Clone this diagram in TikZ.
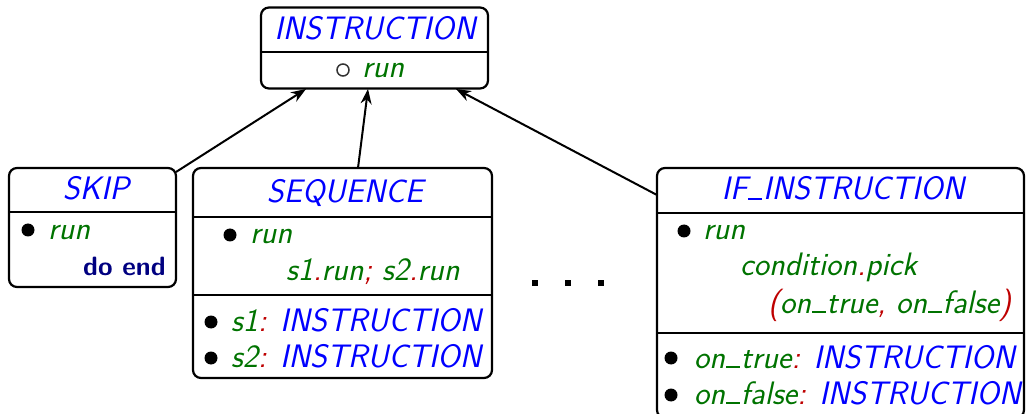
\documentclass[tikz,border=0pt]{standalone}
\usepackage{fontspec}
\usetikzlibrary{arrows.meta}
\definecolor{clsblue}{rgb}{0,0,1}
\definecolor{featgreen}{RGB}{0,115,0}
\definecolor{symred}{RGB}{190,0,0}
\definecolor{kwnavy}{RGB}{0,0,128}
\newcommand{\Cls}[1]{\textcolor{clsblue}{#1}}
\newcommand{\Ft}[1]{\textcolor{featgreen}{#1}}
\newcommand{\Sy}[1]{\textcolor{symred}{#1}}
\newcommand{\us}{\kern0.03em\rule[0pt]{0.42em}{0.07em}\kern0.03em}
\begin{document}
\begin{tikzpicture}[x=1pt,y=-1pt,
  box/.style={draw, line width=2.2pt, rounded corners=8pt, inner sep=0pt},
  divider/.style={line width=2.2pt},
  txt/.style={inner sep=0pt, anchor=base west, font=\fontsize{32.5}{38}\selectfont\sffamily\slshape},
  ctxt/.style={inner sep=0pt, anchor=base, font=\fontsize{32.5}{38}\selectfont\sffamily\slshape},
  inh/.style={line width=2pt, -{Stealth[length=15pt,width=11pt]}},
  dotsq/.style={fill=black, inner sep=0pt, minimum size=6.5pt},
  bul/.style={circle, fill=black, inner sep=0pt, minimum size=13pt},
  hollow/.style={circle, draw=black!80, line width=1.5pt, inner sep=0pt, minimum size=12pt}
]
\useasboundingbox (0,0) rectangle (1026,414);

% INSTRUCTION
\node[box, minimum width=227pt, minimum height=81pt] (instr) at (374.5,48) {};
\draw[divider] (261,52) -- (488,52);
\node[ctxt] (instrT) at (375,40) {\Cls{INSTRUCTION}};
\node[hollow] (instrC) at (343,70) {};
\node[txt] (instrR) at (362,78) {\Ft{run}};

% SKIP
\node[box, minimum width=167pt, minimum height=119pt] (skip) at (92.5,227.5) {};
\draw[divider] (9,212) -- (176,212);
\node[ctxt] (skipT) at (96,200) {\Cls{SKIP}};
\node[bul] (skipB) at (28,230) {};
\node[txt] (skipR) at (48,240) {\Ft{run}};
\node[txt, font=\fontsize{26.5}{32}\selectfont\sffamily\bfseries] (skipD) at (83,276) {\textcolor{kwnavy}{do end}};

% SEQUENCE
\node[box, minimum width=299pt, minimum height=210pt] (seq) at (342.5,273) {};
\draw[divider] (193,217) -- (492,217);
\draw[divider] (193,295) -- (492,295);
\node[ctxt] (seqT) at (345,203) {\Cls{SEQUENCE}};
\node[bul] (seqB) at (230,235) {};
\node[txt] (seqR) at (250,244) {\Ft{run}};
\node[txt] (seqBody) at (286,280) {\Ft{s1}\Sy{.}\Ft{run}\Sy{;} \Ft{s2}\Sy{.}\Ft{run}};
\node[bul] (seqB1) at (211,322) {};
\node[txt] (seqA1) at (231,331) {\Ft{s1}\Sy{:} \Cls{INSTRUCTION}};
\node[bul] (seqB2) at (211,358) {};
\node[txt] (seqA2) at (231,367) {\Ft{s2}\Sy{:} \Cls{INSTRUCTION}};

% dots
\node[dotsq] (d1) at (535,283) {};
\node[dotsq] (d2) at (568,283) {};
\node[dotsq] (d3) at (601,283) {};

% IF_INSTRUCTION
\node[box, minimum width=367pt, minimum height=250pt] (ifi) at (840.5,293) {};
\draw[divider] (657,213) -- (1024,213);
\draw[divider] (657,333) -- (1024,333);
\node[ctxt] (ifT) at (843,200) {\Cls{IF\us INSTRUCTION}};
\node[bul] (ifB) at (684,231) {};
\node[txt] (ifR) at (703,240) {\Ft{run}};
\node[txt] (ifC1) at (740,276) {\Ft{condition}\Sy{.}\Ft{pick}};
\node[txt] (ifC2) at (768,313) {\Sy{(}\Ft{on\us true}\Sy{,} \Ft{on\us false}\Sy{)}};
\node[bul] (ifB1) at (671,358) {};
\node[bul] (ifB2) at (671,395) {};
\node[txt] (ifA1) at (694,368) {\Ft{on\us true}\Sy{:} \Cls{INSTRUCTION}};
\node[txt] (ifA2) at (694,404) {\Ft{on\us false}\Sy{:} \Cls{INSTRUCTION}};

% inheritance arrows
\coordinate (skipS) at (176,172);
\coordinate (seqS) at (358,168);
\coordinate (ifS) at (657,195);
\coordinate (e1) at (306,89);
\coordinate (e2) at (368,89);
\coordinate (e3) at (456,89);
\draw[inh] (skipS) -- (e1);
\draw[inh] (seqS) -- (e2);
\draw[inh] (ifS) -- (e3);
\end{tikzpicture}
\end{document}
